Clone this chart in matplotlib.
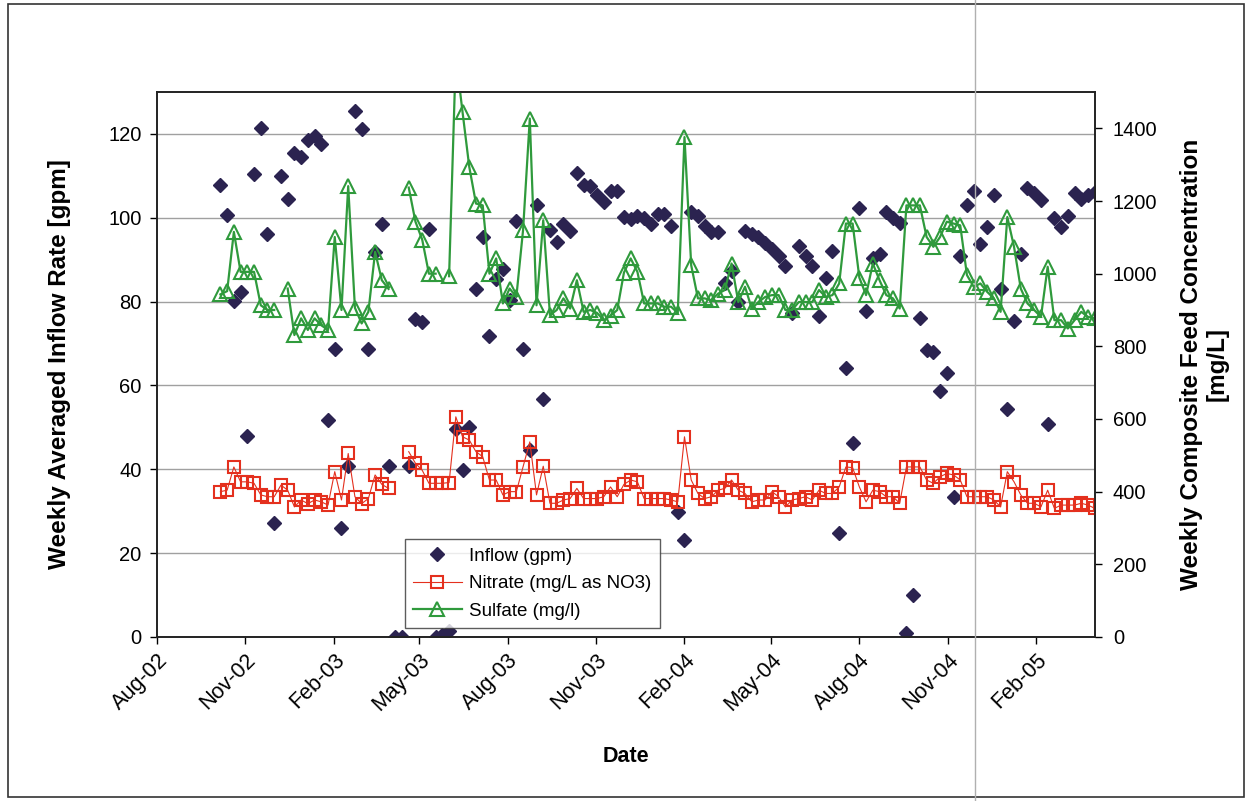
import numpy as np
import pandas as pd
import matplotlib
matplotlib.use("Agg")
import matplotlib.pyplot as plt
import matplotlib.dates as mdates
from matplotlib.patches import Rectangle

plt.rcParams['font.family'] = ['Liberation Sans', 'DejaVu Sans']

# weekly sampling dates (first week of Oct 2002 through end of Mar 2005)
dates = pd.date_range('2002-10-06', periods=131, freq='7D')

inflow = [107.8, 100.6, 80.1, 82.3, 47.9, 110.4, 121.4, 96.1, 27.2, 110.0,
          104.6, 115.5, 114.5, 118.5, 119.5, 117.6, 51.7, 68.8, 26.0, 40.9,
          125.4, 121.2, 68.8, 91.9, 98.6, 40.9, 0.0, 0.0, 40.7, 75.9,
          75.1, 97.3, 0.0, 0.5, 1.5, 49.5, 39.9, 50.1, 82.9, 95.3,
          71.8, 85.3, 87.9, 80.5, 99.3, 68.6, 44.7, 103.0, 56.8, 97.1,
          94.2, 98.5, 96.9, 110.7, 107.8, 107.5, 105.4, 103.8, 106.4, 106.4,
          100.2, 99.7, 100.5, 100.0, 98.5, 100.9, 100.9, 98.1, 29.9, 23.2,
          101.3, 100.5, 98.1, 96.5, 96.5, 84.5, 87.3, 79.9, 96.9, 96.1,
          95.3, 94.1, 92.5, 90.9, 88.5, 77.4, 93.3, 90.9, 88.5, 76.6,
          85.7, 92.1, 24.9, 64.2, 46.2, 102.3, 77.7, 90.5, 91.3, 101.3,
          100.0, 98.7, 0.9, 10.0, 76.2, 68.4, 68.0, 58.6, 63.0, 33.5,
          90.9, 103.0, 106.4, 93.7, 97.7, 105.4, 82.9, 54.3, 75.4, 91.3,
          107.2, 106.0, 104.3, 50.7, 100.0, 97.7, 100.5, 105.9, 104.6, 105.4,
          106.2]

nitrate = [400, 404, 468, 427, 427, 423, 391, 386, 386, 418,
           404, 358, 377, 367, 377, 372, 363, 455, 377, 505,
           386, 367, 381, 446, 420, 409, None, None, 510, 478,
           459, 423, 423, 423, 425, 606, 551, 542, 510, 496,
           432, 432, 391, 400, 400, 468, 537, 391, 470, 368,
           368, 377, 381, 409, 381, 381, 381, 386, 413, 386,
           420, 432, 427, 381, 381, 381, 381, 377, 372, 551,
           432, 395, 381, 386, 404, 409, 432, 404, 395, 372,
           377, 377, 400, 386, 358, 377, 381, 386, 377, 404,
           395, 395, 413, 468, 466, 413, 372, 404, 400, 386,
           386, 368, 468, 468, 468, 432, 423, 441, 450, 446,
           432, 386, 386, 386, 386, 377, 358, 455, 427, 391,
           368, 368, 358, 404, 354, 363, 363, 363, 368, 363,
           354]

sulfate = [943, 952, 1115, 1005, 1005, 1005, 913, 900, 900, None,
           959, 831, 877, 845, 877, 858, 845, 1101, 900, 1241,
           906, 863, 895, 1060, 982, 958, None, None, 1237, 1143,
           1094, 1000, 1000, None, 993, 1600, 1445, 1294, 1193, 1188,
           1000, 1042, 918, 959, 936, 1120, 1427, 913, 1147, 886,
           900, 932, 904, 982, 895, 900, 892, 872, 884, 900,
           1003, 1042, 1005, 918, 918, 918, 909, 909, 892, 1376,
           1023, 932, 932, 927, 945, 955, 1028, 922, 964, 904,
           922, 936, 941, 941, 900, 900, 922, 922, 922, 955,
           936, 941, 973, 1138, 1138, 989, 941, 1028, 982, 941,
           932, 904, 1188, 1188, 1188, 1101, 1074, 1101, 1143, 1138,
           1133, 996, 964, 973, 950, 932, 895, 1156, 1074, 959,
           918, 900, 881, 1019, 872, 872, 849, 872, 895, 881,
           877]

nitrate = np.array([np.nan if v is None else v for v in nitrate], dtype=float)
sulfate = np.array([np.nan if v is None else v for v in sulfate], dtype=float)

fig = plt.figure(figsize=(12.52, 8.01), dpi=100)
ax = fig.add_axes([0.1254, 0.2048, 0.749, 0.6803])
ax2 = ax.twinx()

# primary axis: inflow
h1, = ax.plot(dates, inflow, linestyle='none', marker='D', markersize=7.5,
              color='#2b2350', label='Inflow (gpm)')
ax.set_ylim(0, 130)
ax.set_yticks(range(0, 121, 20))
ax.yaxis.grid(True, color='#a0a0a0', linewidth=1)
ax.set_axisbelow(True)

# secondary axis: concentrations
h2, = ax2.plot(dates, nitrate, color='#e4301e', linewidth=0.8, marker='s',
               markersize=9, markerfacecolor='none', markeredgewidth=1.5,
               label='Nitrate (mg/L as NO3)')
h3, = ax2.plot(dates, sulfate, color='#2f9a3c', linewidth=1.6, marker='^',
               markersize=10, markerfacecolor='none', markeredgewidth=1.5,
               label='Sulfate (mg/l)')
ax2.set_ylim(0, 1500)
ax2.set_yticks(range(0, 1401, 200))

ax.set_xlim(pd.Timestamp('2002-08-01'), pd.Timestamp('2005-04-03'))
ax.xaxis.set_major_locator(mdates.MonthLocator(bymonth=[2, 5, 8, 11]))
ax.xaxis.set_major_formatter(mdates.DateFormatter('%b-%y'))

for a in (ax, ax2):
    a.tick_params(axis='both', labelsize=14.5, direction='out', length=5,
                  width=1, colors='black')
    for s in a.spines.values():
        s.set_linewidth(1.2)
        s.set_color('#222222')
ax.tick_params(axis='y', pad=6)
ax2.tick_params(axis='y', pad=8)
ax.tick_params(axis='x', labelsize=15.5, pad=4)
for lbl in ax.get_xticklabels():
    lbl.set_rotation(45)
    lbl.set_ha('right')
    lbl.set_rotation_mode('anchor')

ax.set_ylabel('Weekly Averaged Inflow Rate [gpm]', fontsize=17.5,
              fontweight='bold', labelpad=27)
ax2.set_ylabel('Weekly Composite Feed Concentration\n[mg/L]', fontsize=17.5,
               fontweight='bold', labelpad=16, linespacing=1.15)
ax.set_xlabel('Date', fontsize=15.5, fontweight='bold', labelpad=22)

leg = ax2.legend(handles=[h1, h2, h3], loc='lower left',
                 bbox_to_anchor=(0.264, 0.016, 0.272, 0.162), mode='expand',
                 fontsize=13.5, frameon=True, fancybox=False,
                 borderaxespad=0, handlelength=2.6, handletextpad=0.4,
                 borderpad=0.45, labelspacing=0.55)
leg.get_frame().set_edgecolor('#333333')
leg.get_frame().set_linewidth(1)

# chart-area border and the scanner fold line
fig.patches.append(Rectangle((0.006, 0.005), 0.988, 0.99, transform=fig.transFigure,
                             fill=False, edgecolor='#333333', linewidth=1.2))
fig.lines.append(plt.Line2D([0.779, 0.779], [0.0, 1.0], transform=fig.transFigure,
                            color='#b0b0b0', linewidth=1))

fig.savefig('out.png', dpi=100)
